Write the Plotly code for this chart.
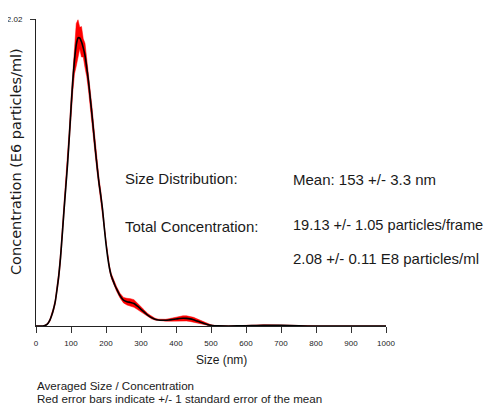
import plotly.graph_objects as go

# Size bins (nm)
sizes = [0, 10, 20, 30, 35, 40, 45, 50, 55, 60, 65, 70, 75, 80, 85, 90, 95, 100,
         105, 110, 115, 120, 125, 130, 135, 140, 145, 150, 155, 160, 165, 170, 175,
         180, 185, 190, 195, 200, 205, 210, 215, 220, 225, 230, 240, 250, 260, 270,
         280, 290, 300, 310, 320, 330, 340, 350, 360, 370, 380, 390, 400, 410, 420,
         430, 440, 450, 460, 470, 480, 490, 500, 510, 520, 550, 600, 650, 700, 750,
         800, 900, 1000]

# Averaged concentration (E6 particles/ml)
concentration = [0, 0, 0, 0.008, 0.02, 0.04, 0.07, 0.11, 0.16, 0.24, 0.33, 0.45, 0.60,
                 0.76, 0.91, 1.06, 1.24, 1.43, 1.61, 1.75, 1.85, 1.895, 1.895, 1.87,
                 1.83, 1.78, 1.70, 1.61, 1.50, 1.39, 1.27, 1.15, 1.04, 0.94, 0.86, 0.77,
                 0.65, 0.54, 0.45, 0.38, 0.33, 0.30, 0.27, 0.245, 0.20, 0.17, 0.16, 0.155,
                 0.148, 0.13, 0.11, 0.09, 0.07, 0.055, 0.045, 0.04, 0.038, 0.038, 0.04,
                 0.043, 0.046, 0.049, 0.051, 0.05, 0.047, 0.041, 0.033, 0.025, 0.017,
                 0.009, 0.004, 0.002, 0.001, 0, 0.002, 0.005, 0.004, 0.001, 0, 0, 0]

# Standard error of the mean
sem = [0, 0, 0, 0.003, 0.005, 0.008, 0.01, 0.012, 0.015, 0.02, 0.025, 0.03, 0.03,
       0.035, 0.04, 0.045, 0.05, 0.06, 0.07, 0.09, 0.14, 0.12, 0.07, 0.10, 0.06, 0.08,
       0.06, 0.06, 0.05, 0.05, 0.045, 0.04, 0.035, 0.03, 0.03, 0.025, 0.02, 0.02, 0.015,
       0.015, 0.015, 0.015, 0.015, 0.015, 0.015, 0.018, 0.022, 0.025, 0.025, 0.022,
       0.018, 0.014, 0.01, 0.008, 0.006, 0.005, 0.005, 0.006, 0.008, 0.01, 0.012, 0.014,
       0.016, 0.017, 0.017, 0.016, 0.014, 0.012, 0.01, 0.007, 0.004, 0.002, 0.001, 0,
       0.002, 0.003, 0.003, 0.001, 0, 0, 0]

x_tick_vals = [0, 100, 200, 300, 400, 500, 600, 700, 800, 900, 1000]
y_max = 2.02

lower = [max(c - s, 0) for c, s in zip(concentration, sem)]
upper = [c + s for c, s in zip(concentration, sem)]

TXT = "#1a1a1a"
FONT = "Liberation Sans, Arial, sans-serif"

fig = go.Figure()
fig.add_trace(go.Scatter(x=sizes, y=lower, mode="lines", line=dict(width=0.5, color="red"),
                         showlegend=False, hoverinfo="skip"))
fig.add_trace(go.Scatter(x=sizes, y=upper, mode="lines", line=dict(width=0.5, color="red"),
                         fill="tonexty", fillcolor="red", showlegend=False, hoverinfo="skip"))
fig.add_trace(go.Scatter(x=sizes, y=concentration, mode="lines",
                         line=dict(width=1.6, color="black", shape="spline", smoothing=0.6),
                         showlegend=False))

# plot-area position in page pixels; page body has an 8px default margin
L, T, W, H = 36, 19, 350, 307
BODY = 8


def px(xp):
    return (xp - L) / W


def py(yp):
    return (T + H - yp) / H


annots = [
    ("Size Distribution:", 124, 178, 15),
    ("Total Concentration:", 124, 226, 15),
    ("Mean: 153 +/- 3.3 nm", 292, 179, 15),
    ("19.13 +/- 1.05 particles/frame", 292, 225, 14.6),
    ("2.08 +/- 0.11 E8 particles/ml", 292, 258, 15),
    ("Averaged Size / Concentration", 36, 385, 11.6),
    ("Red error bars indicate +/- 1 standard error of the mean", 36, 398.5, 11.6),
]
annotations = []
for text, xp, yp, fs in annots:
    annotations.append(dict(text=text, x=px(xp), y=py(yp), xref="paper", yref="paper",
                            xanchor="left", yanchor="middle", showarrow=False, borderpad=0,
                            font=dict(size=fs, color=TXT, family=FONT)))
annotations.append(dict(text="Size (nm)", x=px(221), y=py(360), xref="paper", yref="paper",
                        xanchor="center", yanchor="middle", showarrow=False,
                        font=dict(size=12, color=TXT, family=FONT)))
annotations.append(dict(text="Concentration (E6 particles/ml)", x=px(16), y=py(162),
                        xref="paper", yref="paper", xanchor="center", yanchor="middle",
                        textangle=-90, showarrow=False, borderpad=0,
                        font=dict(size=14.5, color=TXT, family="DejaVu Sans, sans-serif")))

fig.update_layout(
    width=492, height=405,
    margin=dict(l=L - BODY, r=492 - (L - BODY) - W, t=T - BODY, b=405 - (T - BODY) - H,
                autoexpand=False),
    paper_bgcolor="white", plot_bgcolor="white",
    annotations=annotations,
    xaxis=dict(range=[0, 1000], tickvals=x_tick_vals, ticks="outside", ticklen=6,
               tickcolor="#333", showline=True, linecolor="#222", linewidth=1,
               showgrid=False, zeroline=False, automargin=False,
               tickfont=dict(size=8, color=TXT, family=FONT), ticklabelstandoff=3),
    yaxis=dict(range=[0, y_max], tickvals=[y_max], ticktext=["2.02"], ticks="outside",
               ticklen=5, tickcolor="#333", showline=True, linecolor="#222", linewidth=1,
               showgrid=False, zeroline=False, automargin=False,
               tickfont=dict(size=8, color=TXT, family=FONT), ticklabelstandoff=6),
)

fig.write_html("out.html")
